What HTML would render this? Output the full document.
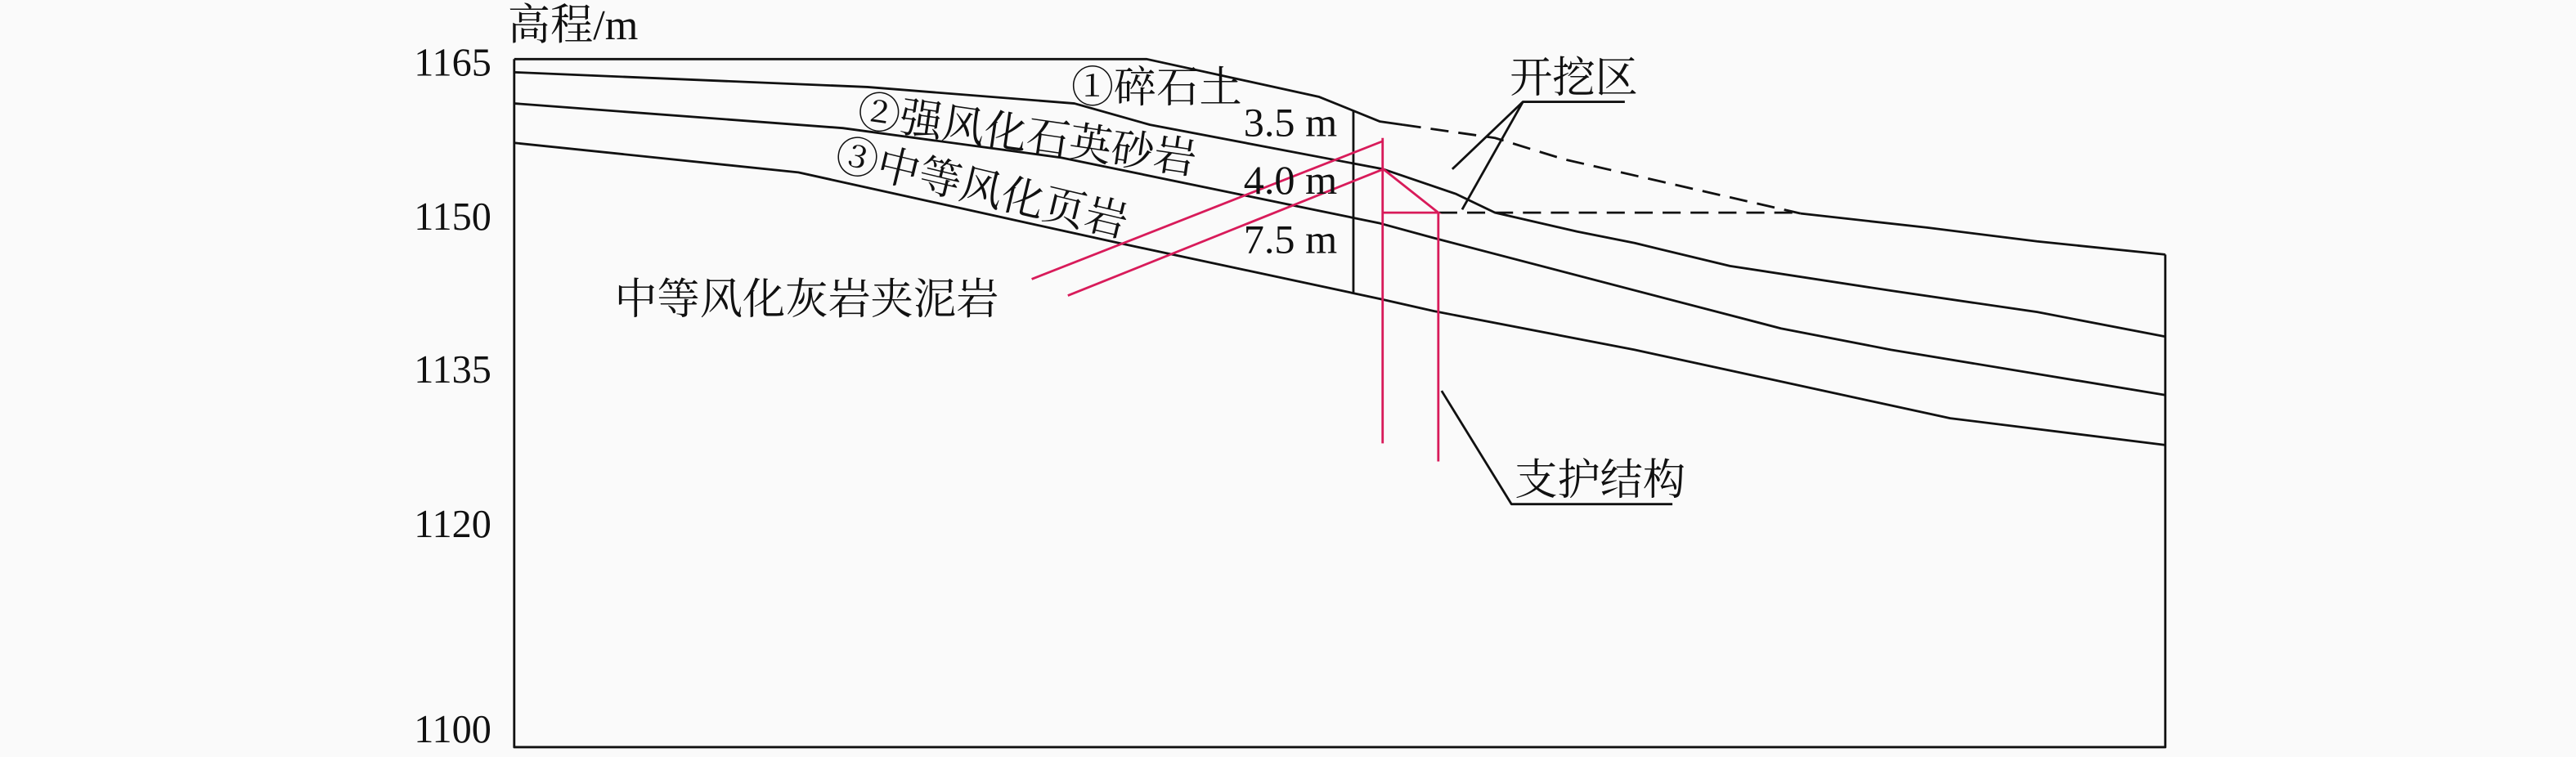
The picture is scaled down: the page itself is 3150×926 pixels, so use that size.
<!DOCTYPE html>
<html><head><meta charset="utf-8"><style>
html,body{margin:0;padding:0;background:#fafafa;}
svg{display:block}
text{font-family:"Liberation Serif","Noto Serif CJK SC","Noto Sans CJK SC",serif;fill:#111}
</style></head><body>
<svg width="3150" height="926" viewBox="0 0 1568 461" preserveAspectRatio="none" xmlns="http://www.w3.org/2000/svg">
<rect width="1568" height="461" fill="#fafafa"/>
<g fill="none" stroke="#111" stroke-width="1.4" stroke-linejoin="round">
<polyline points="313,36 313,455 1318,455 1318,155"/>
<polyline points="313,36 698,36 803,59 840,74 854,76"/>
<polyline points="854,76 910,84 952,97 1096,130" stroke-dasharray="11,6"/>
<polyline points="1096,130 1173,138.6 1240,147 1318,155"/>
<line x1="876" y1="129.5" x2="1096" y2="129.5" stroke-dasharray="11,6"/>
<polyline points="313,44 528,53 654,63 700,76 842,103 886,118 910,129.5 960,141 995,148 1053,162 1151,177 1240,190 1318,205"/>
<polyline points="313,63 513,78 646,96 840,136 873,145 1084,200 1151,213 1318,240.6"/>
<polyline points="313,87 486,105 681,148 840,182 873,189.5 995,213 1187,254.7 1318,271"/>
<line x1="823.8" y1="67.5" x2="823.8" y2="179"/>
<polyline points="884,103 927,62 989,62"/>
<line x1="927" y1="62" x2="890" y2="127.6"/>
<polyline points="877.5,238 920,307 1018,307"/>
</g>
<g fill="none" stroke="#d81b5a" stroke-width="1.4">
<line x1="628" y1="170" x2="841.6" y2="86"/>
<line x1="650" y1="180" x2="842" y2="103"/>
<line x1="841.6" y1="84" x2="841.6" y2="270"/>
<line x1="875.5" y1="129.5" x2="875.5" y2="281"/>
<polyline points="842,103 875.5,129.5 842,129.5"/>
</g>
<g font-size="24">
<text x="252" y="46">1165</text>
<text x="252" y="140">1150</text>
<text x="252" y="233">1135</text>
<text x="252" y="327">1120</text>
<text x="252" y="452">1100</text>
</g>
<text x="309" y="24" font-size="26">高程/m</text>
<g font-size="25">
<text x="757" y="83">3.5 m</text>
<text x="757" y="118">4.0 m</text>
<text x="757" y="154">7.5 m</text>
</g>
<g font-size="26">
<text x="652" y="62">①碎石土</text>
<text x="521" y="76" transform="rotate(8.3 521 76)">②强风化石英砂岩</text>
<text x="507" y="102" transform="rotate(13.5 507 102)">③中等风化页岩</text>
<text x="374" y="191">中等风化灰岩夹泥岩</text>
<text x="919" y="56">开挖区</text>
<text x="922" y="301">支护结构</text>
</g>
</svg>
</body></html>
